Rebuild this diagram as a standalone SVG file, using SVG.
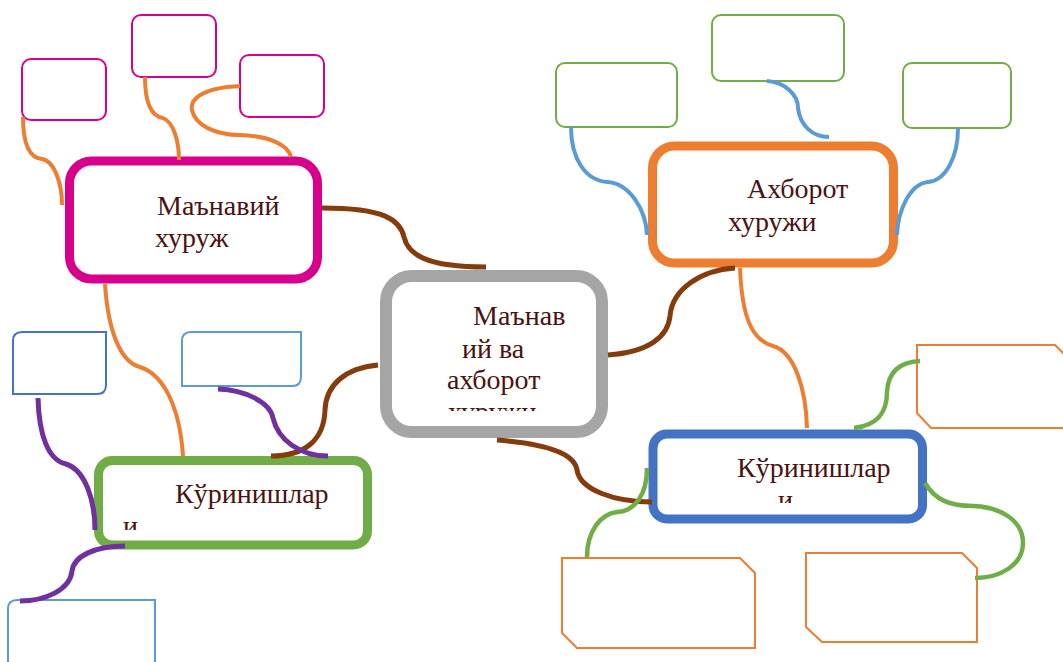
<svg xmlns="http://www.w3.org/2000/svg" width="1063" height="662" viewBox="0 0 1063 662">
<style>
.t{font-family:"Liberation Serif","Times New Roman",serif;font-size:28px;fill:#4a1212}
.c{fill:none;stroke-linecap:butt}
.or{stroke:#ed7d31;stroke-width:4}
.br{stroke:#843c0c;stroke-width:5}
.lb{stroke:#5b9bd5;stroke-width:4}
.gr{stroke:#70ad47;stroke-width:4.5}
.pu{stroke:#7030a0;stroke-width:5}
.sb{fill:#fff;stroke-width:2}
</style>
<defs>
<clipPath id="clipC"><rect x="390" y="280" width="215" height="131"/></clipPath>
<clipPath id="clipG"><rect x="100" y="462" width="265" height="68"/></clipPath>
<clipPath id="clipB"><rect x="655" y="436" width="265" height="67"/></clipPath>
</defs>
<rect width="1063" height="662" fill="#fff"/>

<g id="node-center">
<rect x="386" y="276" width="216" height="156" rx="26" fill="#fff" stroke="#a5a5a5" stroke-width="12"/>
<g clip-path="url(#clipC)">
<text class="t" x="473" y="325">Маънав</text>
<text class="t" x="462" y="358">ий ва</text>
<text class="t" x="447" y="389">ахборот</text>
<text class="t" x="448" y="421">хуружи</text>
</g>
</g>

<g id="node-manaviy">
<rect x="69.5" y="161" width="248" height="118" rx="22" fill="#fff" stroke="#d6008c" stroke-width="9"/>
<text class="t" x="157" y="215">Маънавий</text>
<text class="t" x="155" y="247">хуруж</text>
</g>

<g id="node-axborot">
<rect x="652.5" y="146" width="241" height="117" rx="22" fill="#fff" stroke="#ed7d31" stroke-width="9"/>
<text class="t" x="747" y="198">Ахборот</text>
<text class="t" x="728" y="231">хуружи</text>
</g>

<g id="node-kurinish-left">
<rect x="98.5" y="460.5" width="269" height="84.5" rx="14" fill="#fff" stroke="#70ad47" stroke-width="9"/>
<g clip-path="url(#clipG)">
<text class="t" x="175" y="503">Кўринишлар</text>
<text class="t" x="123" y="535">и</text>
</g>
</g>

<g id="node-kurinish-right">
<rect x="653" y="434" width="269.5" height="85" rx="14" fill="#fff" stroke="#4472c4" stroke-width="9"/>
<g clip-path="url(#clipB)">
<text class="t" x="737" y="477">Кўринишлар</text>
<text class="t" x="778" y="509">и</text>
</g>
</g>

<g id="pink-box-1"><rect class="sb" x="22" y="59" width="84" height="61" rx="9" stroke="#d6008c"/></g>
<g id="pink-box-2"><rect class="sb" x="132" y="15" width="84" height="62" rx="9" stroke="#d6008c"/></g>
<g id="pink-box-3"><rect class="sb" x="240" y="55" width="84" height="62" rx="9" stroke="#d6008c"/></g>

<g id="green-box-1"><rect class="sb" x="556" y="63" width="121" height="64" rx="9" stroke="#70ad47"/></g>
<g id="green-box-2"><rect class="sb" x="712" y="15" width="132" height="66" rx="9" stroke="#70ad47"/></g>
<g id="green-box-3"><rect class="sb" x="903" y="63" width="108" height="65" rx="9" stroke="#70ad47"/></g>

<g id="orange-box-1"><path class="sb" stroke="#ed7d31" d="M917 345 L1055 345 L1070 360 L1070 428 L931 428 L917 413 Z"/></g>
<g id="orange-box-2"><path class="sb" stroke="#ed7d31" d="M562 558 L740 558 L755 573 L755 648 L577 648 L562 633 Z"/></g>
<g id="orange-box-3"><path class="sb" stroke="#ed7d31" d="M806 553 L962 553 L977 568 L977 642 L822 642 L806 627 Z"/></g>

<g id="blue-box-1"><path class="sb" stroke="#4472c4" d="M13 394 L13 341 Q13 332 22 332 L106 332 L106 385 Q106 394 97 394 Z"/></g>
<g id="blue-box-2"><path class="sb" stroke="#5b9bd5" d="M182 386 L182 341 Q182 332 191 332 L301 332 L301 377 Q301 386 292 386 Z"/></g>
<g id="blue-box-3"><path class="sb" stroke="#5b9bd5" d="M8 670 L8 609 Q8 600 17 600 L155 600 L155 670"/></g>

<g id="connectors">
<path class="c or" d="M23 117 C23 145 30 158 42 159 C55 161 62 185 62 205"/>
<path class="c or" d="M145 77 C145 100 150 116 163 118 C173 122 179 140 179 160"/>
<path class="c or" d="M240 86 C200 88 190 100 192 110 C195 125 215 135 240 135 C270 136 288 145 291 157"/>
<path class="c or" d="M105 284 C108 330 120 362 140 367 C165 375 180 410 183 456"/>
<path class="c or" d="M740 268 C742 318 752 340 773 346 C795 352 806 390 807 428"/>

<path class="c br" d="M322 208 C385 208 400 220 404 237 C408 254 425 267 486 267"/>
<path class="c br" d="M608 355 C650 352 668 336 670 316 C672 290 700 270 735 268"/>
<path class="c br" d="M497 440 C560 445 575 458 577 470 C580 490 615 502 652 502"/>
<path class="c br" d="M378 365 C345 368 326 385 325 410 C324 440 305 456 271 456"/>

<path class="c lb" d="M571 127 C571 158 585 181 608 182 C630 184 646 210 647 235"/>
<path class="c lb" d="M767 81 C785 82 798 95 798 108 C800 125 812 137 829 137"/>
<path class="c lb" d="M958 128 C958 158 945 181 928 182 C910 184 898 210 897 235"/>

<path class="c gr" d="M854 428 C880 425 887 410 887 392 C888 372 900 362 920 361"/>
<path class="c gr" d="M647 468 C647 495 635 511 617 512 C600 514 587 532 587 557"/>
<path class="c gr" d="M925 483 C935 500 950 506 973 506 C1000 507 1023 520 1023 543 C1023 565 1000 578 975 578"/>

<path class="c pu" d="M38 398 C39 435 48 460 66 464 C85 470 95 500 95 530"/>
<path class="c pu" d="M218 389 C245 390 270 402 273 418 C278 440 300 456 328 456"/>
<path class="c pu" d="M125 546 C95 546 74 556 72 571 C70 590 45 601 20 601"/>
</g>
</svg>
